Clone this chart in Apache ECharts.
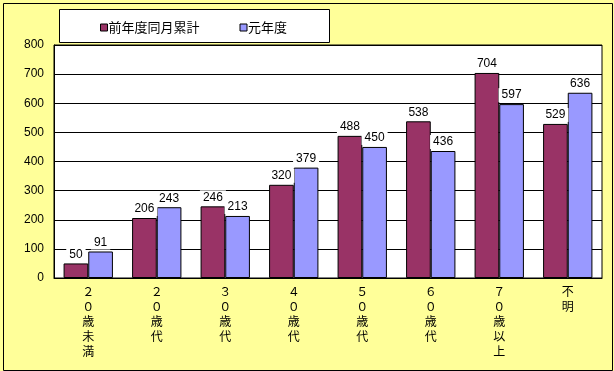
<!DOCTYPE html>
<html><head><meta charset="utf-8">
<script src="https://cdn.jsdelivr.net/npm/echarts@6/dist/echarts.min.js"></script>
<style>html,body{margin:0;padding:0;background:#fff}#c{width:614px;height:371px}</style>
</head><body><div id="c"></div>
<script>
const categories = ['２０歳未満','２０歳代','３０歳代','４０歳代','５０歳代','６０歳代','７０歳以上','不明'];
const seriesNames = ['前年度同月累計','元年度'];
const prevValues = [50,206,246,320,488,538,704,529];
const currValues = [91,243,213,379,450,436,597,636];
const yTicks = [0,100,200,300,400,500,600,700,800];

const numFont = "'Liberation Sans Narrow','Arial Narrow','Liberation Sans',sans-serif";
const jpFont = "'Noto Sans CJK JP',sans-serif";
const chart = echarts.init(document.getElementById('c'));
const labelCfg = {show:true,position:'top',distance:2,color:'#000',fontFamily:numFont,fontSize:12,backgroundColor:'#fff',padding:[1,3]};
chart.setOption({
  backgroundColor:'#FFFF99',
  animation:false,
  graphic:[
    {type:'rect',left:1,top:1,shape:{width:609,height:367},style:{fill:'none',stroke:'#000',lineWidth:1},z:100},
    {type:'rect',shape:{x:59.5,y:9.5,width:270,height:33},style:{fill:'#fff',stroke:'#000',lineWidth:1},z:0}
  ],
  legend:{
    left:95,top:16,itemWidth:7,itemHeight:7,itemGap:40,icon:'rect',
    textStyle:{fontFamily:jpFont,fontSize:13,color:'#000',padding:[0,0,0,-4]},
    data:seriesNames.map(n=>({name:n,itemStyle:{borderColor:'#000',borderWidth:1}}))
  },
  grid:{left:54,right:12,top:45,bottom:93,show:true,backgroundColor:'#fff',borderColor:'#000',borderWidth:1},
  xAxis:{type:'category',data:categories,
    axisLine:{lineStyle:{color:'#000'}},
    axisTick:{inside:true,length:3,lineStyle:{color:'#000'}},
    axisLabel:{interval:0,color:'#000',fontFamily:jpFont,fontSize:12,lineHeight:15,margin:6,verticalAlign:'top',
      formatter:v=>v.split('').join('\n')}},
  yAxis:{type:'value',min:0,max:800,interval:100,
    axisLine:{show:true,lineStyle:{color:'#000'}},
    axisTick:{show:false},
    axisLabel:{color:'#000',fontFamily:numFont,fontSize:12,margin:10,
      formatter:v=>yTicks.includes(v)?String(v):''},
    splitLine:{lineStyle:{color:'#000',width:1}}},
  series:[
    {name:seriesNames[0],type:'bar',data:prevValues,barGap:'0%',barCategoryGap:'28%',
     itemStyle:{color:'#993366',borderColor:'#000',borderWidth:1},label:labelCfg},
    {name:seriesNames[1],type:'bar',data:currValues,
     itemStyle:{color:'#9999FF',borderColor:'#000',borderWidth:1},label:labelCfg}
  ]
});
</script></body></html>
